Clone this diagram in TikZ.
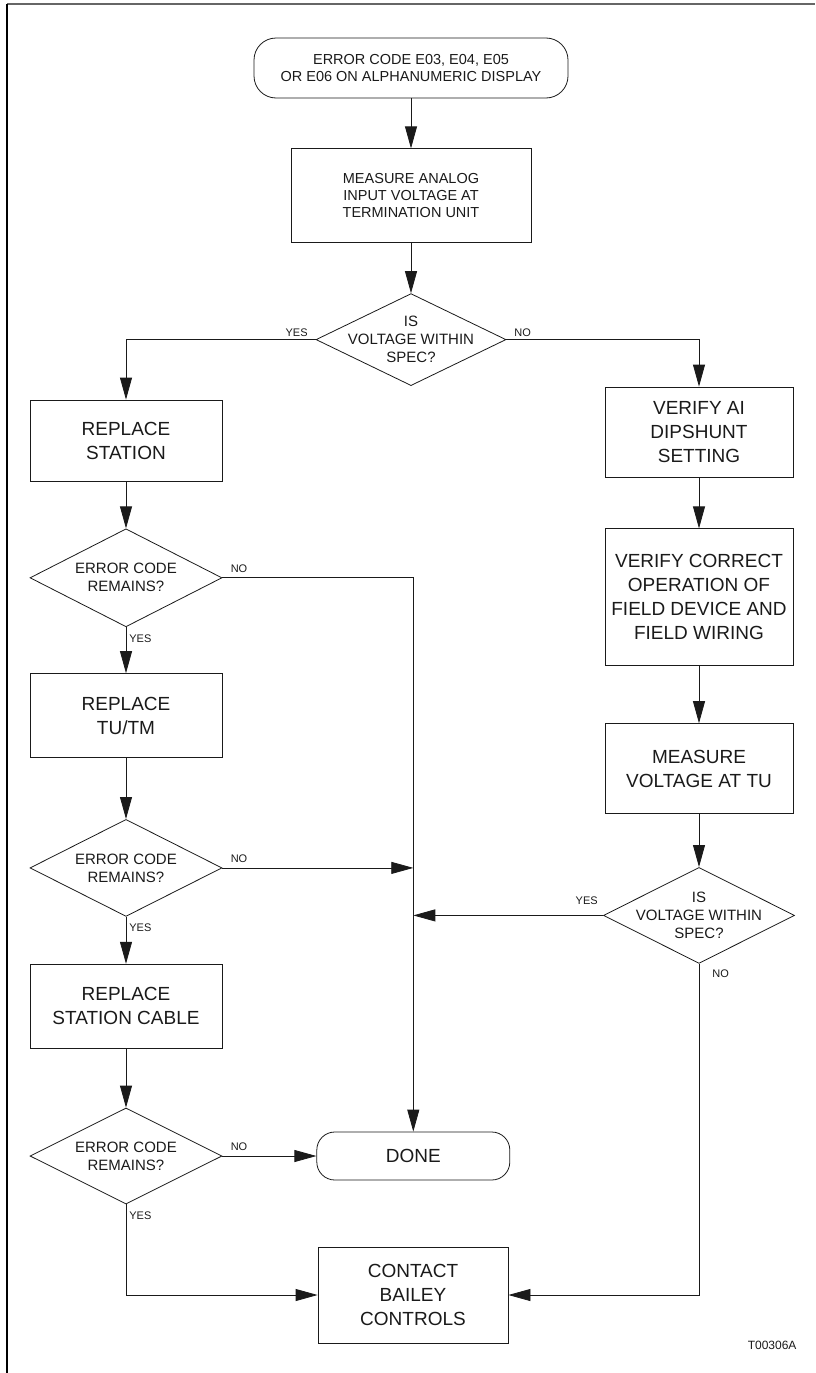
\documentclass[tikz,border=0pt]{standalone}
\usepackage{fontspec}
\setmainfont{Liberation Sans}
\usetikzlibrary{arrows.meta,positioning,shapes.geometric}
\definecolor{ink}{HTML}{1A1A1A}
\tikzset{
  >={Triangle[length=22pt,width=12pt]},
  every node/.style={text=ink},
  box/.style={draw=ink,line width=0.8pt,align=center,inner sep=0pt,font=\fontsize{19}{24}\selectfont},
  smallbox/.style={box,font=\fontsize{14.5}{17}\selectfont},
  termbox/.style={box,rounded corners=22pt},
  decbox/.style={draw=ink,line width=0.8pt,shape=diamond,align=center,inner sep=-30pt,font=\fontsize{15}{18}\selectfont,minimum width=192pt,minimum height=98pt},
  arrow/.style={->,line width=0.8pt,draw=ink},
  wire/.style={line width=0.8pt,draw=ink},
  lbl/.style={font=\fontsize{11}{13}\selectfont,inner sep=0pt},
}

\begin{document}
\begin{tikzpicture}[x=1pt,y=-1pt]
\useasboundingbox (0,0) rectangle (815,1373);
\draw[line width=1.5pt,draw=black!60] (7,4) -- (815,4);
\draw[line width=2pt,draw=black] (7,4) -- (7,1373);

\node[termbox,font=\fontsize{14.5}{17}\selectfont,minimum width=314pt,minimum height=60pt] (start) at (411,68) {ERROR CODE E03, E04, E05\\OR E06 ON ALPHANUMERIC DISPLAY};
\node[smallbox,minimum width=240pt,minimum height=94pt,below=50pt of start] (measure) {MEASURE ANALOG\\INPUT VOLTAGE AT\\TERMINATION UNIT};
\node[decbox,minimum width=190pt,minimum height=92pt,below=50pt of measure] (isv) {IS\\VOLTAGE WITHIN\\SPEC?};

\node[box,minimum width=192pt,minimum height=81pt] (station) at (126,440.5) {REPLACE\\STATION};
\node[decbox,below=47pt of station] (err1) {ERROR CODE\\REMAINS?};
\node[box,minimum width=192pt,minimum height=84pt,below=46pt of err1] (tutm) {REPLACE\\TU/TM};
\node[decbox,minimum height=97pt,below=61pt of tutm] (err2) {ERROR CODE\\REMAINS?};
\node[box,minimum width=192pt,minimum height=84pt,below=47pt of err2] (cable) {REPLACE\\STATION CABLE};
\node[decbox,minimum height=96pt,below=59pt of cable] (err3) {ERROR CODE\\REMAINS?};
\node[termbox,rounded corners=18pt,minimum width=193pt,minimum height=48pt,right=94pt of err3] (done) {DONE};
\node[box,minimum width=190pt,minimum height=96pt] (contact) at (413,1295) {CONTACT\\BAILEY\\CONTROLS};

\node[box,minimum width=188pt,minimum height=90pt] (dip) at (699,432) {VERIFY AI\\DIPSHUNT\\SETTING};
\node[box,minimum width=188pt,minimum height=137pt,below=51pt of dip] (field) {VERIFY CORRECT\\OPERATION OF\\FIELD DEVICE AND\\FIELD WIRING};
\node[box,minimum width=188pt,minimum height=90pt,below=57pt of field] (mtu) {MEASURE\\VOLTAGE AT TU};
\node[decbox,minimum width=191pt,minimum height=96pt,below=53pt of mtu] (verify) {IS\\VOLTAGE WITHIN\\SPEC?};

\node[font=\fontsize{12}{14}\selectfont,anchor=east] (tag) at (800,1345) {T00306A};

\draw[arrow] (start) -- (measure);
\draw[arrow] (measure) -- (isv);
\draw[arrow] (isv.west) -| node[lbl,pos=0.05,above=3pt]{YES} (station.north);
\draw[arrow] (isv.east) -| node[lbl,pos=0.042,above=3pt]{NO} (dip.north);

\draw[arrow] (station) -- (err1);
\draw[arrow] (err1.east) node[lbl,anchor=south west,xshift=8pt,yshift=5pt]{NO} -- (err1.east -| done.north) -- (done.north);
\draw[arrow] (err1.south) node[lbl,anchor=north west,xshift=3pt,yshift=-7pt]{YES} -- (tutm.north);
\draw[arrow] (tutm) -- (err2);
\draw[arrow] (err2.east) node[lbl,anchor=south west,xshift=8pt,yshift=5pt]{NO} -- (err2.east -| done.north);
\draw[arrow] (err2.south) node[lbl,anchor=north west,xshift=3pt,yshift=-7pt]{YES} -- (cable.north);
\draw[arrow] (cable) -- (err3);
\draw[arrow] (err3.east) node[lbl,anchor=south west,xshift=8pt,yshift=5pt]{NO} -- (done.west);
\draw[arrow] (err3.south) node[lbl,anchor=north west,xshift=3pt,yshift=-7pt]{YES} |- (contact.west);

\draw[arrow] (dip) -- (field);
\draw[arrow] (field) -- (mtu);
\draw[arrow] (mtu) -- (verify);
\draw[arrow] (verify.west) node[lbl,anchor=south east,xshift=-5pt,yshift=10pt]{YES} -- (verify.west -| done.north);
\draw[arrow] (verify.south) node[lbl,anchor=north west,xshift=13pt,yshift=-6pt]{NO} |- (contact.east);

\end{tikzpicture}
\end{document}
